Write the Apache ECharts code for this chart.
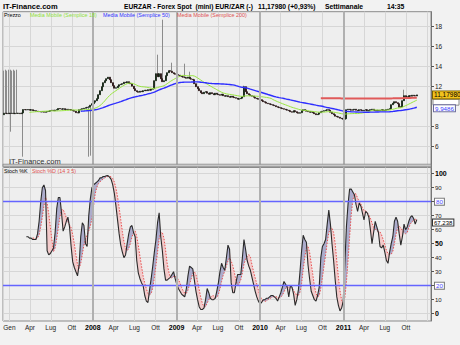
<!DOCTYPE html>
<html><head><meta charset="utf-8">
<script src="https://cdn.jsdelivr.net/npm/echarts@6/dist/echarts.min.js"></script>
<style>html,body{margin:0;padding:0;background:#f2f2f2}#c{width:460px;height:345px}</style>
</head><body><div id="c"></div>
<script>
// ---------- DATA (weekly EUR/ZAR) ----------
const startDate = [2006, 11, 1];          // first weekly candle (1 Dec 2006)
const firstOpen = 7.6;
const closes = [
  9.20,9.35,9.33,9.30,9.35, 9.32,9.35,9.30,9.34,9.33,
  9.35,9.30,9.38,9.72,9.70, 9.68,9.72,9.65,9.70,9.62,
  9.60,9.55,9.52,9.50,9.48, 9.50,9.45,9.48,9.52,9.55,
  9.62,9.65,9.60,9.66,9.70, 9.82,9.78,9.75,9.80,9.72,
  9.75,9.70,9.72,9.65,9.60, 9.55,9.40,9.38,9.70,9.75,
  9.80,9.85,9.90,9.95,10.00, 10.15,10.30,10.45,10.60,10.80,
  11.20,11.60,12.00,12.40,12.60, 12.80,12.95,12.70,12.40,12.10,
  11.85,11.90,12.05,12.20,12.25, 12.30,12.45,12.40,12.50,12.35,
  12.30,12.05,11.80,11.60,11.50, 11.45,11.55,11.50,11.60,11.65,
  11.60,11.70,11.65,11.75,11.80, 12.60,13.30,13.00,13.30,12.80,
  12.50,12.60,13.10,13.40,13.60, 13.55,13.40,13.30,13.25,13.20,
  13.15,13.05,13.00,12.95,12.90, 12.85,12.95,12.80,12.75,12.70,
  12.30,12.00,11.80,11.60,11.40, 11.30,11.45,11.50,11.35,11.25,
  11.40,11.30,11.20,11.35,11.25, 11.20,11.15,11.25,11.10,11.05,
  11.10,11.00,10.95,11.05,10.95, 10.90,10.85,10.75,10.80,10.85,
  11.00,12.00,11.50,11.30,11.20, 11.10,11.05,10.95,10.85,10.80,
  10.75,10.70,10.60,10.50,10.45, 10.35,10.30,10.25,10.20,10.15,
  10.10,10.00,9.95,9.90,9.85, 9.80,9.75,9.70,9.65,9.60,
  9.50,9.45,9.60,9.50,9.40, 9.35,9.40,9.60,9.70,9.65,
  9.55,9.50,9.45,9.50,9.40, 9.30,9.20,9.25,9.40,9.50,
  9.55,9.60,9.65,9.70,9.65, 9.45,9.30,9.20,9.05,9.00,
  8.95,8.85,8.80,8.75,8.80, 9.70,9.75,9.70,9.65,9.70,
  9.75,9.65,9.60,9.70,9.65, 9.60,9.65,9.70,9.60,9.65,
  9.70,9.75,9.65,9.60,9.65, 9.60,9.65,9.70,9.60,9.65,
  9.70,9.75,9.80,10.20,10.35, 10.50,10.40,10.30,9.95,10.00,
  10.60,11.10,11.00,10.95,11.10, 11.05,11.15,11.10,11.077,11.1798
];
// [week index, value] of candles whose wick reaches far outside the body
const spikeHighs = [[0,13.7],[1,13.6],[2,13.7],[3,13.6],[4,13.7],[5,13.7],[6,13.6],[7,13.7],[8,13.6],[9,13.7],
  [97,15.2],[100,18.7],[106,14.4],[114,14.3],[117,13.5],[151,12.1],[251,11.7]];
const spikeLows = [[5,7.5],[13,5.0],[54,5.0],[55,5.1]];
const maPeriods = [18, 50, 200];
const stochStart = 15;
const stochK = [
  55,55,54,54,53,53,53,57,66,80,
  90,92,88,45,42,43,45,47,58,75,
  83,83,72,59,62,66,69,62,48,37,
  33,30,27,35,55,65,63,50,48,70,
  82,90,92,93,94,95,97,97,98,98,
  98.5,98.6,97.5,96,92,86,77,67,57,49,
  44,40,42,50,57,62,63,58,55,38,
  29,25,22,20,13,9,8,17,25,34,
  44,53,65,72,55,45,32,24,24,25,
  26,28,30,25,21,18,16,14,13,12,
  18,27,34,33,32,24,16,10,5,3,
  3,4,10,18,15,11,10,10,11,16,
  22,30,36,33,31,40,49,46,22,15,
  15,22,28,28,28,40,53,46,38,34,
  31,26,21,16,12,9,7,8,10,10,
  11,11,12,13,13,12,11,9,12,15,
  19,23,21,19,12,20,19,14,6,10,
  17,30,45,56,53,51,35,25,16,13,
  10,9,13,19,40,48,50,53,64,74,
  64,50,38,24,12,6,2,4,9,35,
  62,78,89,89,87,85,78,73,79,77,
  72,67,73,72,69,60,50,58,66,62,
  58,48,47,49,44,38,36,44,50,55,
  66,69,66,57,49,55,64,60,62,66,
  69,70,68,64,67.238
];
const dPeriod = 5;
const stochLevels = [80, 20];
const monthLabels = ['Gen', 'Apr', 'Lug', 'Ott'];
const labelYears = [2008, 2009, 2010, 2011];
const yearLines = [2008, 2009, 2010, 2011];
const priceLabels = [6, 8, 12, 14, 16, 18];
const boldStoch = [0, 50, 100];
const titleSite = 'IT-Finance.com';
const titleMain = 'EURZAR - Forex Spot  (mini) EUR/ZAR (-)';
const titlePrice = '11,17980 (+0,93%)';
const titlePeriod = 'Settimanale';
const titleTime = '14:35';
const legendTop = [['Prezzo', '#000000'], ['Media Mobile (Semplice 18)', '#8fe03a'], ['Media Mobile (Semplice 50)', '#3232ff'], ['Media Mobile (Semplice 200)', '#e05050']];
const legendBottom = [['Stoch %K', '#000000'], ['Stoch %D (14 3 5)', '#e05050']];
const priceBoxText = '11,17980';
const ma50BoxText = '9,9486';
const kBoxText = '67,238';

// ---------- BUILD ----------
const DAY = 86400000;
const dates = closes.map((_, i) => new Date(startDate[0], startDate[1], startDate[2] + 7 * i).getTime());
const opens = closes.map((c, i) => i === 0 ? firstOpen : closes[i - 1]);
const highs = closes.map((c, i) => Math.max(c, opens[i]));
const lows = closes.map((c, i) => Math.min(c, opens[i]));
spikeHighs.forEach(([i, v]) => highs[i] = v);
spikeLows.forEach(([i, v]) => lows[i] = v);
function sma(arr, n) {
  return arr.map((_, i) => {
    if (i < n - 1) return null;
    let s = 0;
    for (let k = i - n + 1; k <= i; k++) { if (arr[k] == null) return null; s += arr[k]; }
    return s / n;
  });
}
const mas = maPeriods.map(p => sma(closes, p));
const kFull = new Array(stochStart).fill(null).concat(stochK);
const dFull = sma(kFull, dPeriod);
const pair = (arr) => arr.map((v, i) => [dates[i], v]);
const bodyData = closes.map((c, i) => [dates[i], opens[i], c, Math.min(c, opens[i]), Math.max(c, opens[i])]);
const wickData = closes.map((c, i) => [dates[i], opens[i], c, lows[i], highs[i]]);
const fillBase = kFull.map((k, i) => (k == null || dFull[i] == null) ? null : Math.min(k, dFull[i]));
const fillUp = kFull.map((k, i) => (k == null || dFull[i] == null) ? null : Math.max(k - dFull[i], 0));
const fillDn = kFull.map((k, i) => (k == null || dFull[i] == null) ? null : Math.max(dFull[i] - k, 0));

const xMin = new Date(2006, 11, 4).getTime();
const xMax = new Date(2012, 0, 19).getTime();
const FONT = 'Liberation Sans, Arial, sans-serif';
const GRID_C = '#d6d6d6';
const yearMark = {
  silent: true, symbol: 'none', label: { show: false },
  lineStyle: { color: '#b0b0b0', width: 2, type: 'solid' },
  data: yearLines.map(y => ({ xAxis: new Date(y, 0, 1).getTime() }))
};
function xAxisBase(gi) {
  return {
    type: 'time', gridIndex: gi, min: xMin, max: xMax,
    minInterval: 92 * DAY, maxInterval: 92 * DAY, splitNumber: 20,
    axisLine: { show: false }, axisTick: { show: false }, axisLabel: { show: false },
    splitLine: { show: false }
  };
}
const xa0 = xAxisBase(0); xa0.splitLine = { show: true, lineStyle: { color: GRID_C, width: 1 } };
const xa1 = xAxisBase(1);
const xa2 = xAxisBase(2);
xa2.splitLine = { show: true, lineStyle: { color: GRID_C, width: 1 } };
xa2.axisLabel = {
  show: true, fontSize: 6.5, fontFamily: FONT, color: '#222', margin: 3,
  showMinLabel: false, showMaxLabel: false, hideOverlap: false,
  formatter: function (v) {
    const d = new Date(v);
    if (d.getDate() !== 1 || d.getMonth() % 3 !== 0) return '';
    const m = d.getMonth();
    const y = d.getFullYear();
    if (m === 0 && y !== 2007) return labelYears.indexOf(y) >= 0 ? '{b|' + y + '}' : '';
    return monthLabels[m / 3];
  },
  rich: { b: { fontWeight: 'bold', fontSize: 7, fontFamily: FONT, color: '#000' } }
};

const option = {
  backgroundColor: '#f2f2f2',
  animation: false,
  grid: [
    { left: 3, top: 11.7, width: 428, height: 155, show: true, backgroundColor: '#eeeeee', borderColor: '#8a8a8a', borderWidth: 1 },
    { left: 3, top: 173.7, width: 428, height: 140, show: false },
    { left: 3, top: 167.5, width: 428, height: 153.5, show: true, backgroundColor: '#eeeeee', borderColor: '#8a8a8a', borderWidth: 1 }
  ],
  xAxis: [xa0, xa1, xa2],
  yAxis: [
    {
      type: 'value', gridIndex: 0, position: 'right', min: 4, max: 19.5, interval: 1,
      axisLine: { show: true, lineStyle: { color: '#777' } },
      axisTick: { show: true, length: 3, customValues: priceLabels, lineStyle: { color: '#555' } },
      axisLabel: { fontSize: 6.5, fontFamily: FONT, color: '#222', margin: 4, customValues: priceLabels },
      splitLine: { show: true, lineStyle: { color: GRID_C, width: 1 } }
    },
    {
      type: 'value', gridIndex: 1, position: 'right', min: 0, max: 100, interval: 10,
      axisLine: { show: false },
      axisTick: { show: true, length: 3, lineStyle: { color: '#555' } },
      axisLabel: {
        fontSize: 6, fontFamily: FONT, color: '#222', margin: 4,
        formatter: function (v) {
          if (stochLevels.indexOf(v) >= 0) return '{box|' + v + '}';
          if (boldStoch.indexOf(v) >= 0) return '{b|' + v + '}';
          return String(v);
        },
        rich: {
          b: { fontWeight: 'bold', fontSize: 7, fontFamily: FONT, color: '#000' },
          box: { color: '#4a4aff', fontSize: 6.2, fontFamily: FONT, backgroundColor: '#fff', borderColor: '#777', borderWidth: 1, padding: [0, 1, 0, 1] }
        }
      },
      splitLine: { show: true, lineStyle: { color: GRID_C, width: 1 } }
    },
    {
      type: 'value', gridIndex: 2, position: 'right', min: 0, max: 1,
      axisLine: { show: true, lineStyle: { color: '#777' } }, axisTick: { show: false },
      axisLabel: { show: false }, splitLine: { show: false }
    }
  ],
  series: [
    {
      type: 'candlestick', name: 'wick', xAxisIndex: 0, yAxisIndex: 0, data: wickData,
      dimensions: ['t', 'open', 'close', 'low', 'high'], encode: { x: 0, y: [1, 2, 3, 4] },
      barWidth: 1.2, silent: true,
      itemStyle: { color: '#8c8c8c', color0: '#8c8c8c', borderColor: '#8c8c8c', borderColor0: '#8c8c8c', borderWidth: 1 },
      markLine: yearMark
    },
    {
      type: 'candlestick', name: 'Prezzo', xAxisIndex: 0, yAxisIndex: 0, data: bodyData,
      dimensions: ['t', 'open', 'close', 'low', 'high'], encode: { x: 0, y: [1, 2, 3, 4] },
      barWidth: 1.5, silent: true,
      itemStyle: { color: '#18a018', color0: '#c41818', borderColor: '#111', borderColor0: '#111', borderWidth: 0.8 }
    },
    { type: 'line', name: 'MA18', xAxisIndex: 0, yAxisIndex: 0, data: pair(mas[0]), showSymbol: false, symbol: 'none', silent: true, lineStyle: { color: '#99e640', width: 1 } },
    { type: 'line', name: 'MA50', xAxisIndex: 0, yAxisIndex: 0, data: pair(mas[1]), showSymbol: false, symbol: 'none', silent: true, lineStyle: { color: '#2e2eff', width: 1.4 } },
    { type: 'line', name: 'MA200', xAxisIndex: 0, yAxisIndex: 0, data: pair(mas[2]), showSymbol: false, symbol: 'none', silent: true, lineStyle: { color: '#e05a5a', width: 2 } },
    { type: 'line', name: 'base', xAxisIndex: 1, yAxisIndex: 1, data: pair(fillBase), stack: 'fill', symbol: 'none', silent: true, lineStyle: { width: 0, opacity: 0 } },
    { type: 'line', name: 'up', xAxisIndex: 1, yAxisIndex: 1, data: pair(fillUp), stack: 'fill', symbol: 'none', silent: true, lineStyle: { width: 0, opacity: 0 }, areaStyle: { color: '#a4a4c8', opacity: 0.9 } },
    { type: 'line', name: 'dn', xAxisIndex: 1, yAxisIndex: 1, data: pair(fillDn), stack: 'fill', symbol: 'none', silent: true, lineStyle: { width: 0, opacity: 0 }, areaStyle: { color: '#f3c6c6', opacity: 0.9 } },
    { type: 'line', name: 'Stoch %D', xAxisIndex: 1, yAxisIndex: 1, data: pair(dFull), symbol: 'none', silent: true, lineStyle: { color: '#e85050', width: 1, type: [1.5, 1.5] } },
    {
      type: 'line', name: 'Stoch %K', xAxisIndex: 1, yAxisIndex: 1, data: pair(kFull), symbol: 'none', silent: true,
      lineStyle: { color: '#2a2a2a', width: 1.1 },
      markLine: { silent: true, symbol: 'none', label: { show: false }, lineStyle: { color: '#6464ff', width: 1.3, type: 'solid', opacity: 1 }, data: stochLevels.map(v => ({ yAxis: v, lineStyle: { color: '#6464ff' } })) }
    },
    { type: 'line', name: 'years', xAxisIndex: 2, yAxisIndex: 2, data: [[xMin, null], [xMax, null]], symbol: 'none', silent: true, markLine: yearMark }
  ]
};

const chart = echarts.init(document.getElementById('c'), null, { renderer: 'svg', width: 460, height: 345 });
chart.setOption(option);

// ---------- TEXT / VALUE BOXES ----------
const last = closes.length - 1;
const yOf = (gi, v) => chart.convertToPixel({ gridIndex: gi }, [dates[last], v])[1];
const g = [];
function txt(text, x, y, fill, font, extra) {
  g.push({ type: 'text', silent: true, z: 100, style: Object.assign({ text: text, x: x, y: y, fill: fill, font: font, verticalAlign: 'middle', align: 'left' }, extra || {}) });
}
txt(titleSite, 3, 6, '#000', 'bold 7.5px ' + FONT);
txt(titleMain, 124, 6, '#000', 'bold 6.6px ' + FONT);
txt(titlePrice, 258, 6, '#000', 'bold 6.8px ' + FONT);
txt(titlePeriod, 325, 6, '#000', 'bold 6.8px ' + FONT);
txt(titleTime, 387, 6, '#000', 'bold 6.8px ' + FONT);
const legPos = [4, 30, 103, 177];
legendTop.forEach((l, i) => txt(l[0], legPos[i], 14.5, l[1], '5.4px ' + FONT));
const legPosB = [4, 32];
legendBottom.forEach((l, i) => txt(l[0], legPosB[i], 171, l[1], '5.4px ' + FONT));
txt(titleSite, 9, 161.5, '#333', '7.5px ' + FONT);
// hidden MA18 / MA200 marker box peeking out behind the price label
const ma18Last = mas[0][last];
g.push({ type: 'rect', silent: true, z: 99, shape: { x: 433, y: yOf(0, ma18Last) - 1, width: 26, height: 6 }, style: { fill: '#fff', stroke: '#8a8a8a', lineWidth: 1 } });
txt(ma50BoxText, 434, yOf(0, mas[1][last]) + 1, '#3a3aff', '6.2px ' + FONT, { backgroundColor: '#fff', borderColor: '#6a6a9a', borderWidth: 1, padding: [0, 1, 0, 1] });
txt(priceBoxText, 433, yOf(0, closes[last]), '#000', '6.5px ' + FONT, { backgroundColor: '#f2c21c', borderColor: '#7a6000', borderWidth: 1, padding: [0, 1, 0, 1] });
txt(kBoxText, 433, yOf(1, kFull[last]) + 3, '#000', '6px ' + FONT, { backgroundColor: '#fff', borderColor: '#333', borderWidth: 1, padding: [0, 1, 0, 1] });
// double rule under the price panel
g.push({ type: 'rect', silent: true, z: 90, shape: { x: 3, y: 164.2, width: 428, height: 2.6 }, style: { fill: '#c9c9c9', stroke: '#8a8a8a', lineWidth: 0.8 } });
chart.setOption({ graphic: g });
</script>
</body></html>
